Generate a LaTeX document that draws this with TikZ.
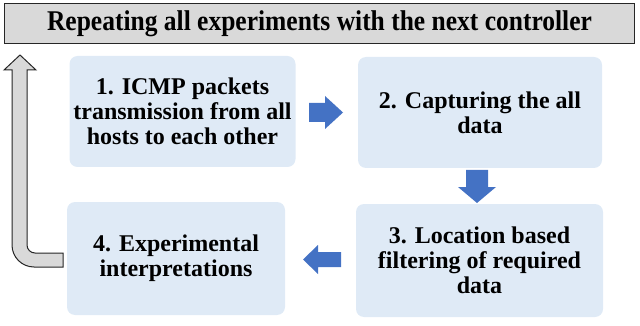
\documentclass[tikz,border=0pt]{standalone}
\usepackage{fontspec}
\setmainfont{Liberation Serif}
\definecolor{boxblue}{HTML}{DFEAF6}
\definecolor{arrowblue}{HTML}{4472C4}
\definecolor{bannergray}{HTML}{D9D9D9}
\tikzset{
  stepbox/.style={fill=boxblue, rounded corners=8pt, draw=none, align=center,
    inner sep=0pt, font=\bfseries\fontsize{24}{25}\selectfont},
  blockarrow/.style={fill=arrowblue, draw=none},
  returnarrow/.style={fill=bannergray, draw=black!85, line width=1pt, line join=miter}
}
\begin{document}
\begin{tikzpicture}[x=1pt,y=-1pt]
\useasboundingbox (0,0) rectangle (640,326);
% banner
\node[fill=bannergray, draw=black!85, line width=1pt, minimum width=630pt, minimum height=40pt, inner sep=0pt,
  font=\bfseries\fontsize{25.5}{28}\selectfont] (banner) at (319.5,23.5)
  {\scalebox{1}[1.12]{Repeating all experiments with the next controller}};
% step boxes
\node[stepbox, minimum width=226pt, minimum height=111pt] (s1) at (182.5,111.5)
  {1. ICMP packets\\transmission from all\\hosts to each other};
\node[stepbox, minimum width=244pt, minimum height=111pt] (s2) at (480,112.5)
  {2. Capturing the all\\data};
\node[stepbox, minimum width=247pt, minimum height=113pt] (s3) at (479.5,260.5)
  {3. Location based\\filtering of required\\data};
\node[stepbox, minimum width=218pt, minimum height=113pt] (s4) at (176,258.5)
  {4. Experimental\\interpretations};
% blue block arrows
\fill[blockarrow] (309,103) -- (325,103) -- (325,96) -- (343,112.5) -- (325,129) -- (325,122) -- (309,122) -- cycle;
\fill[blockarrow] (466,170) -- (488,170) -- (488,187) -- (496,187) -- (477,203) -- (458,187) -- (466,187) -- cycle;
\fill[blockarrow] (341,252) -- (318,252) -- (318,245) -- (303,259.5) -- (318,274) -- (318,267) -- (341,267) -- cycle;
% gray return arrow
\draw[returnarrow] (63,253) -- (35,253) arc[start angle=90, end angle=180, radius=8] -- (27,70) -- (36,70)
  -- (20,55) -- (4,70) -- (12,70) -- (12,245) arc[start angle=180, end angle=90, radius=22] -- (63,267) -- cycle;
\end{tikzpicture}
\end{document}
